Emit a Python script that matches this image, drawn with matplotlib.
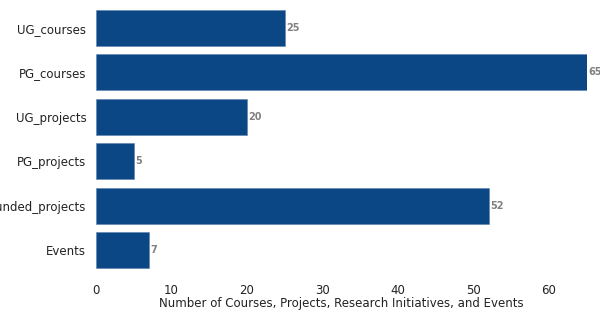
import matplotlib.pyplot as plt

categories = ["UG_courses", "PG_courses", "UG_projects", "PG_projects", "Funded_projects", "Events"]
counts = [25, 65, 20, 5, 52, 7]

fig = plt.figure(figsize=(6, 3.11), dpi=100)
ax = fig.add_axes([0.16, 30 / 311, 0.818, 284 / 311])

bars = ax.barh(categories, counts, height=0.8, color="#0a4784", edgecolor="#5a82ad", linewidth=0.4)
ax.invert_yaxis()
ax.set_xlim(0, 65)
ax.set_ylim(5.69, -0.69)

for b, v in zip(bars, counts):
    ax.text(b.get_width() + 0.15, b.get_y() + b.get_height() / 2, str(v),
            va="center", ha="left", fontsize=7, color="#808080", fontweight="bold")

for s in ax.spines.values():
    s.set_visible(False)
ax.tick_params(length=0, labelsize=8.5, labelcolor="#222222")
ax.tick_params(axis="y", pad=7)
ax.tick_params(axis="x", pad=2.5)
ax.set_xlabel("Number of Courses, Projects, Research Initiatives, and Events", fontsize=8.5, color="#222222", labelpad=0)

fig.savefig("out.png", dpi=100)
